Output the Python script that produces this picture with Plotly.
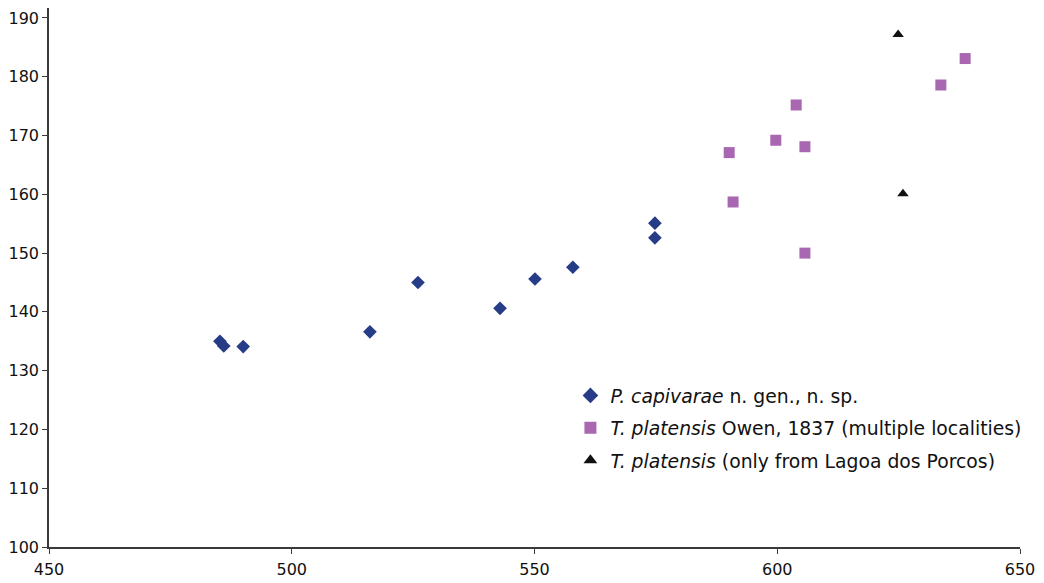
import plotly.graph_objects as go

cap_x = [485.2, 486.0, 490.0, 516.1, 526.0, 542.9, 550.1, 557.9, 574.8, 574.8]
cap_y = [135.0, 134.2, 134.1, 136.6, 145.0, 140.6, 145.6, 147.6, 155.1, 152.6]

pla_x = [638.7, 633.7, 603.9, 599.7, 605.7, 590.1, 590.9, 605.7]
pla_y = [183.1, 178.6, 175.2, 169.2, 168.1, 167.1, 158.7, 150.0]

lag_x = [624.9, 625.9]
lag_y = [187.2, 160.1]

names = [
    "<i>P. capivarae</i> n. gen., n. sp.",
    "<i>T. platensis</i> Owen, 1837 (multiple localities)",
    "<i>T. platensis</i> (only from Lagoa dos Porcos)",
]

FONT = "DejaVu Sans, Liberation Sans, Arial, sans-serif"

fig = go.Figure()
fig.add_trace(go.Scatter(x=cap_x, y=cap_y, mode="markers", name=names[0], legendgroup="a",
                         marker=dict(symbol="diamond", size=10.5, color="#263C86")))
fig.add_trace(go.Scatter(x=pla_x, y=pla_y, mode="markers", name=names[1], legendgroup="b",
                         marker=dict(symbol="square", size=11, color="#A867B0")))
fig.add_trace(go.Scatter(x=lag_x, y=lag_y, mode="markers", name=names[2], legendgroup="c",
                         marker=dict(symbol="triangle-up", size=10, color="#111111")))

fig.update_layout(
    width=1036, height=575,
    margin=dict(l=41, r=24, t=0, b=36),
    plot_bgcolor="white", paper_bgcolor="white",
    font=dict(family=FONT, size=16, color="#111111"),
    showlegend=True,
    legend=dict(x=0.537, y=0.316, xanchor="left", yanchor="top",
                font=dict(family=FONT, size=18.8), bgcolor="rgba(0,0,0,0)",
                itemsizing="constant", traceorder="grouped", tracegroupgap=5),
)
fig.update_xaxes(range=[450, 650], tickvals=[450, 500, 550, 600, 650],
                 showgrid=False, zeroline=False, showline=True, automargin=False,
                 linecolor="#3a3a3a", linewidth=1.5, ticks="outside",
                 ticklen=5, tickcolor="#3a3a3a", tickfont=dict(size=16),
                 ticklabelstandoff=2)
fig.update_yaxes(range=[100, 191.7], tickvals=list(range(100, 191, 10)),
                 showgrid=False, zeroline=False, showline=True, automargin=False,
                 linecolor="#3a3a3a", linewidth=1.5, ticks="outside",
                 ticklen=5, tickcolor="#3a3a3a", tickfont=dict(size=16))

fig.write_html("out.html")
